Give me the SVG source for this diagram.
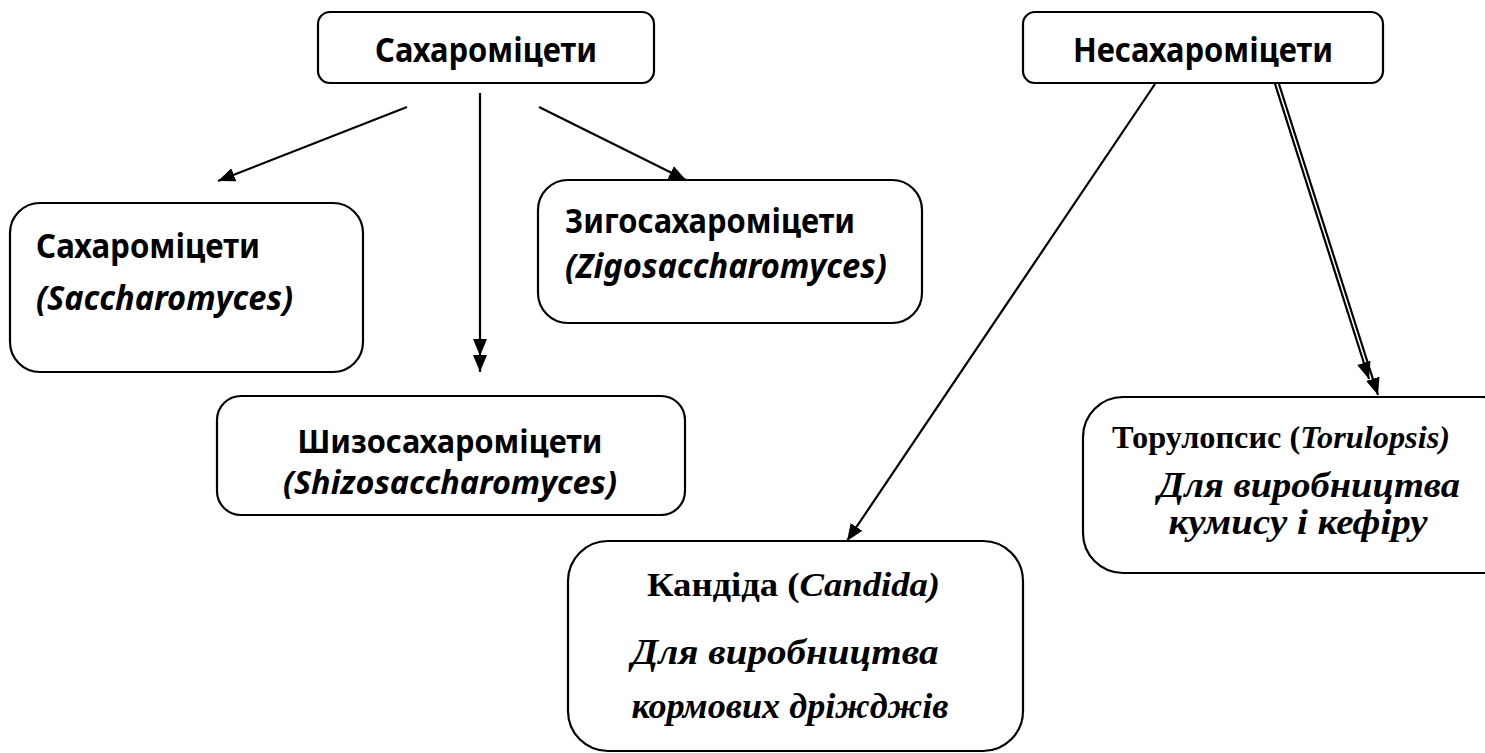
<svg xmlns="http://www.w3.org/2000/svg" width="1485" height="753" viewBox="0 0 1485 753">
<defs>
<style>
.box{fill:#fff;stroke:#000;stroke-width:2.2}
.ln{fill:none;stroke:#000;stroke-width:2.2}
.sans{font-family:"Noto Sans","Open Sans","Liberation Sans",sans-serif;font-weight:bold;fill:#000}
.serif{font-family:"Liberation Serif","Times New Roman",serif;font-weight:bold;fill:#000}
.it{font-style:italic}
</style>
<marker id="ah" markerUnits="userSpaceOnUse" markerWidth="17" markerHeight="14" refX="17" refY="7" orient="auto" viewBox="0 0 17 14">
<path d="M0,0 L17,7 L0,14 z" fill="#000"/>
</marker>
</defs>
<rect width="1485" height="753" fill="#fff"/>
<g id="connectors">
<line class="ln" x1="407" y1="107" x2="218" y2="181" marker-end="url(#ah)"/>
<polyline class="ln" points="480,93 480,356 480,372" marker-mid="url(#ah)" marker-end="url(#ah)"/>
<line class="ln" x1="539" y1="107" x2="686" y2="180" marker-end="url(#ah)"/>
<line class="ln" x1="1155" y1="84" x2="847" y2="541" marker-end="url(#ah)"/>
<line class="ln" x1="1270" y1="68" x2="1369" y2="379" marker-end="url(#ah)"/>
<line class="ln" x1="1279" y1="84" x2="1378" y2="395" marker-end="url(#ah)"/>
</g>
<g id="node-saccharomycetes-top">
<rect class="box" x="318" y="12" width="336" height="71" rx="12"/>
<text class="sans" x="486" y="62" font-size="34" text-anchor="middle" textLength="222" lengthAdjust="spacingAndGlyphs">Сахароміцети</text>
</g>
<g id="node-nonsaccharomycetes">
<rect class="box" x="1023" y="12" width="360" height="71" rx="12"/>
<text class="sans" x="1203" y="62" font-size="34" text-anchor="middle" textLength="260" lengthAdjust="spacingAndGlyphs">Несахароміцети</text>
</g>
<g id="node-saccharomyces">
<rect class="box" x="10" y="203" width="353" height="169" rx="30"/>
<text class="sans" x="36" y="258" font-size="34" textLength="224" lengthAdjust="spacingAndGlyphs">Сахароміцети</text>
<text class="sans it" x="36" y="310" font-size="34" textLength="257" lengthAdjust="spacingAndGlyphs">(Saccharomyces)</text>
</g>
<g id="node-shizosaccharomyces">
<rect class="box" x="217" y="396" width="468" height="119" rx="24"/>
<text class="sans" x="450" y="453" font-size="32" text-anchor="middle" textLength="305" lengthAdjust="spacingAndGlyphs">Шизосахароміцети</text>
<text class="sans it" x="450" y="494" font-size="32" text-anchor="middle" textLength="334" lengthAdjust="spacingAndGlyphs">(Shizosaccharomyces)</text>
</g>
<g id="node-zigosaccharomyces">
<rect class="box" x="538" y="180" width="384" height="143" rx="30"/>
<text class="sans" x="565" y="233" font-size="34" textLength="290" lengthAdjust="spacingAndGlyphs">Зигосахароміцети</text>
<text class="sans it" x="565" y="278" font-size="34" textLength="322" lengthAdjust="spacingAndGlyphs">(Zigosaccharomyces)</text>
</g>
<g id="node-torulopsis">
<rect class="box" x="1083" y="397" width="440" height="176" rx="40"/>
<text class="serif" x="1112" y="448" font-size="31" textLength="338" lengthAdjust="spacingAndGlyphs">Торулопсис (<tspan class="it">Torulopsis)</tspan></text>
<text class="serif it" x="1309" y="497" font-size="35" text-anchor="middle" textLength="302" lengthAdjust="spacingAndGlyphs">Для виробництва</text>
<text class="serif it" x="1298" y="534" font-size="35" text-anchor="middle" textLength="259" lengthAdjust="spacingAndGlyphs">кумису і кефіру</text>
</g>
<g id="node-candida">
<rect class="box" x="568" y="541" width="455" height="210" rx="40"/>
<text class="serif" x="647" y="596" font-size="34" textLength="293" lengthAdjust="spacingAndGlyphs">Кандіда (<tspan class="it">Candida)</tspan></text>
<text class="serif it" x="785" y="664" font-size="35" text-anchor="middle" textLength="307" lengthAdjust="spacingAndGlyphs">Для виробництва</text>
<text class="serif it" x="790" y="718" font-size="35" text-anchor="middle" textLength="317" lengthAdjust="spacingAndGlyphs">кормових дріжджів</text>
</g>
</svg>
